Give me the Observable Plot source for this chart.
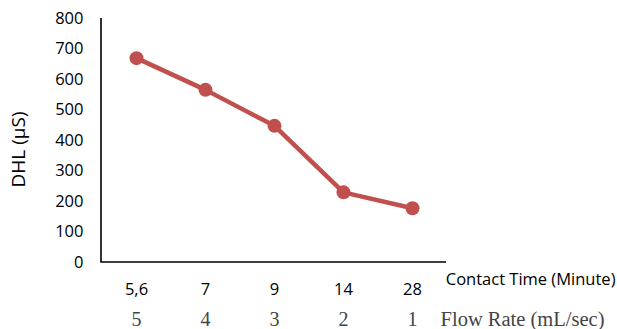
<!DOCTYPE html>
<html>
<head>
<meta charset="utf-8">
<script src="https://cdn.jsdelivr.net/npm/d3@7"></script>
<script src="https://cdn.jsdelivr.net/npm/@observablehq/plot@0.6"></script>
<style>
  html, body { margin: 0; padding: 0; background: #fff; }
</style>
</head>
<body>
<div id="chart"></div>
<script>
const contactTimes = ["5,6", "7", "9", "14", "28"];
const flowRates = ["5", "4", "3", "2", "1"];
const dhlValues = [670, 566, 448, 230, 178];
const yTicks = [0, 100, 200, 300, 400, 500, 600, 700, 800];

const data = contactTimes.map((t, i) => ({ t, flow: flowRates[i], dhl: dhlValues[i] }));

const red = "#C0504D";
const sans = "'Open Sans', 'Liberation Sans', sans-serif";
const serif = "'Liberation Serif', 'DejaVu Serif', serif";

// L-shaped axis lines (left and bottom edges of the plot frame)
function axisLines(index, scales, values, dims) {
  const g = document.createElementNS("http://www.w3.org/2000/svg", "g");
  const x0 = dims.marginLeft, x1 = dims.width - dims.marginRight;
  const y0 = dims.marginTop, y1 = dims.height - dims.marginBottom;
  const p = document.createElementNS("http://www.w3.org/2000/svg", "path");
  p.setAttribute("d", `M${x0},${y0}V${y1}H${x1}`);
  p.setAttribute("fill", "none");
  p.setAttribute("stroke", "#000");
  p.setAttribute("stroke-width", "1.6");
  g.appendChild(p);
  return g;
}

const chart = Plot.plot({
  width: 617,
  height: 329,
  marginLeft: 101,
  marginRight: 171,
  marginTop: 18,
  marginBottom: 67,
  style: { fontFamily: sans, fontSize: "16.5px", color: "#000", background: "#fff", overflow: "visible" },
  x: { type: "point", domain: contactTimes, padding: 0.5, label: null },
  y: { domain: [0, 800], ticks: yTicks, label: null },
  marks: [
    Plot.axisY({ ticks: yTicks, tickSize: 0, tickPadding: 18, fontSize: 16.5, fontFamily: sans, label: null }),
    Plot.axisX({ tickSize: 0, tickPadding: 21, fontSize: 16.5, fontFamily: sans, label: null }),
    axisLines,
    Plot.line(data, { x: "t", y: "dhl", stroke: red, strokeWidth: 4.5 }),
    Plot.dot(data, { x: "t", y: "dhl", r: 7, fill: red, stroke: "none" }),
    Plot.text(data, { x: "t", text: "flow", frameAnchor: "bottom", dy: 63, fontFamily: serif, fontSize: 20, fill: "#444" }),
    Plot.text(["Contact Time (Minute)"], { frameAnchor: "bottom-right", dx: 169, dy: 22, textAnchor: "end", fontFamily: sans, fontSize: 16.5, fill: "#000" }),
    Plot.text(["Flow Rate (mL/sec)"], { frameAnchor: "bottom-right", dx: 158, dy: 63, textAnchor: "end", fontFamily: serif, fontSize: 20.5, fill: "#444" }),
    Plot.text(["DHL (µS)"], { frameAnchor: "left", dx: -83, dy: 9, rotate: -90, textAnchor: "middle", fontFamily: sans, fontSize: 19, fill: "#000" })
  ]
});

document.getElementById("chart").appendChild(chart);
</script>
</body>
</html>
